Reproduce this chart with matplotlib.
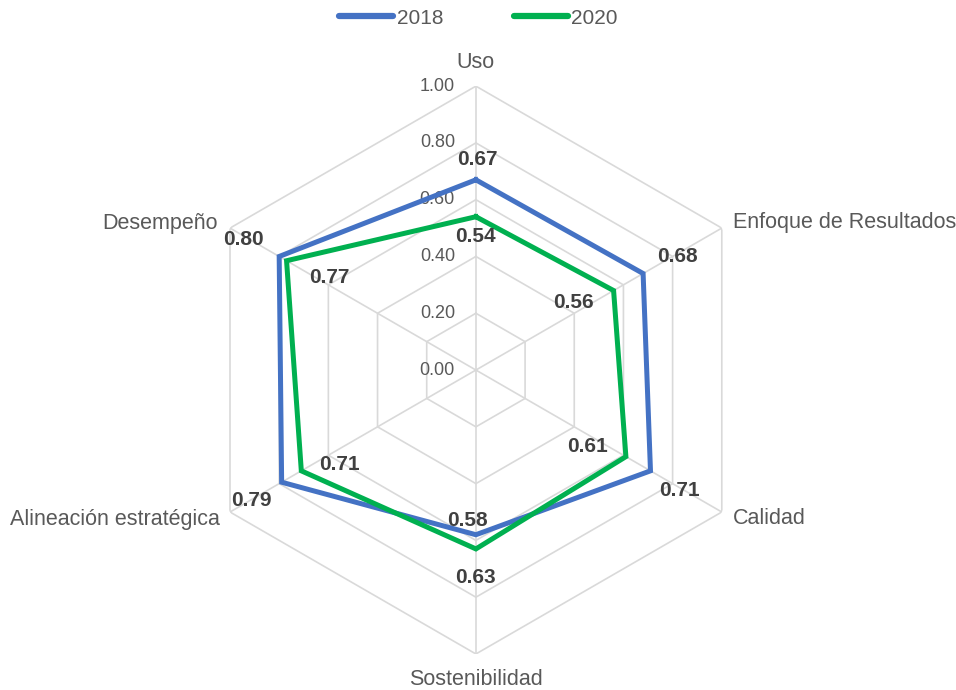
import numpy as np
import matplotlib.pyplot as plt

plt.rcParams['font.family'] = ['Liberation Sans', 'DejaVu Sans']

categories = ["Uso", "Enfoque de Resultados", "Calidad", "Sostenibilidad",
              "Alineación estratégica", "Desempeño"]
values_2018 = [0.67, 0.68, 0.71, 0.58, 0.79, 0.80]
values_2020 = [0.54, 0.56, 0.61, 0.63, 0.71, 0.77]
ticks = [0.0, 0.2, 0.4, 0.6, 0.8, 1.0]

BLUE = "#4472C4"
GREEN = "#00B050"
GRID = "#D9D9D9"
TXT = "#595959"
LBL = "#404040"

n = len(categories)
angles = np.arange(n) * 2 * np.pi / n
closed = np.append(angles, angles[0])

fig = plt.figure(figsize=(9.56, 6.9), dpi=100)
ax = fig.add_axes([0.2008, 0.0522, 0.594, 0.823], projection='polar')
ax.set_theta_offset(np.pi / 2)
ax.set_theta_direction(-1)
ax.set_ylim(0, 1)
ax.grid(False)
ax.spines['polar'].set_visible(False)
ax.set_xticks([])
ax.set_yticks([])
ax.patch.set_alpha(0)

# hexagonal grid + spokes
for t in ticks[1:]:
    ax.plot(closed, [t] * (n + 1), color=GRID, lw=1.2, zorder=1)
for a in angles:
    ax.plot([a, a], [0, 1], color=GRID, lw=1.2, zorder=1)

# radial tick labels
for t in ticks:
    ax.annotate(f"{t:.2f}", xy=(0, t), xytext=(-21, 0), textcoords='offset pixels',
                ha='right', va='center', fontsize=13, color=TXT)

# category labels
cat_off = [(0, 24, 'center'), (11, 6, 'left'), (11, -6, 'left'),
           (0, -26, 'center'), (-10, -7, 'right'), (-12, 5, 'right')]
for a, c, (dx, dy, ha) in zip(angles, categories, cat_off):
    ax.annotate(c, xy=(a, 1), xytext=(dx, dy), textcoords='offset pixels',
                ha=ha, va='center', fontsize=15.5, color=TXT)

l1, = ax.plot(closed, values_2018 + values_2018[:1], color=BLUE, lw=3.6, zorder=3,
              solid_joinstyle='miter', label="2018")
l2, = ax.plot(closed, values_2020 + values_2020[:1], color=GREEN, lw=3.6, zorder=4,
              solid_joinstyle='miter', label="2020")

off_2018 = [(1, 20), (34, 17), (29, -20), (-8, 14), (-30, -18), (-36, 17)]
off_2020 = [(0, -20), (-40, -12), (-38, 10), (0, -29), (38, 6), (43, -17)]
for a, v, (dx, dy) in zip(angles, values_2018, off_2018):
    ax.annotate(f"{v:.2f}", xy=(a, v), xytext=(dx, dy), textcoords='offset pixels',
                ha='center', va='center', fontsize=15, fontweight='bold', color=LBL, zorder=5)
for a, v, (dx, dy) in zip(angles, values_2020, off_2020):
    ax.annotate(f"{v:.2f}", xy=(a, v), xytext=(dx, dy), textcoords='offset pixels',
                ha='center', va='center', fontsize=15, fontweight='bold', color=LBL, zorder=5)

leg = fig.legend(handles=[l1, l2], loc='center', bbox_to_anchor=(0.5005, 1 - 18 / 690),
                 ncol=2, frameon=False, fontsize=15, handlelength=2.6,
                 handletextpad=0.15, columnspacing=3.4, labelcolor=TXT,
                 borderaxespad=0, borderpad=0)
for h in leg.get_lines():
    h.set_linewidth(4.5)
    h.set_solid_capstyle('round')

fig.savefig("out.png", dpi=100)
